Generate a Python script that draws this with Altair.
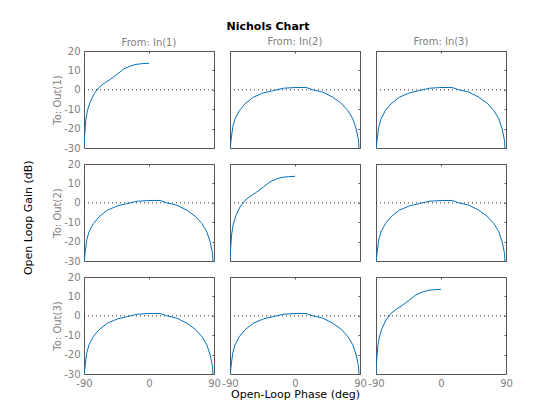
import altair as alt
import pandas as pd

inputs = ["From: In(1)", "From: In(2)", "From: In(3)"]
outputs = ["To: Out(1)", "To: Out(2)", "To: Out(3)"]
x_ticks = [-90, 0, 90]
y_ticks = [-30, -20, -10, 0, 10, 20]

# diagonal channels (phase in deg, gain in dB)
diag_phase = [-90, -89.8, -89.0, -87.6, -85.4, -81.7, -76.2, -69.2, -62.3, -53.1, -43.8, -34.6, -25.3, -18.0, -9.0, 0]
diag_gain = [-30, -26.0, -22.9, -16.0, -10.9, -6.5, -2.2, 1.2, 3.3, 5.5, 8.1, 10.8, 12.3, 13.1, 13.5, 13.65]

# cross channels
cross_phase = [-89.5, -89.0, -88.1, -86.3, -83.1, -77.0, -69.2, -57.6, -43.8, -30.0, -16.2, 1.4, 15.3,
               24.6, 38.5, 52.3, 63.9, 73.2, 80.1, 84.7, 88.0, 88.5]
cross_gain = [-30, -27.5, -24.8, -19.3, -15.0, -10.7, -7.2, -3.8, -1.6, -0.4, 0.8, 1.2, 1.2,
              0.0, -1.2, -3.8, -6.9, -10.7, -15.0, -20.2, -26.2, -30]

FONT = "DejaVu Sans"
BOX = "#555555"
GREY = "#808080"
LINE = "#0072BD"
W, H = 130, 97


def panel(r, c):
    if r == c:
        df = pd.DataFrame({"phase": diag_phase, "gain": diag_gain})
    else:
        df = pd.DataFrame({"phase": cross_phase, "gain": cross_gain})
    df["order"] = range(len(df))
    xscale = alt.Scale(domain=[-90, 90], nice=False, zero=False)
    yscale = alt.Scale(domain=[-30, 20], nice=False, zero=False)

    if c == 0:
        left_axis = alt.Axis(values=y_ticks, ticks=False, domain=False, grid=False,
                             labelColor=GREY, labelFontSize=10, labelPadding=4,
                             labelExpr="toString(datum.value)",
                             title=outputs[r], titleColor=GREY, titleFontWeight="normal",
                             titleFontSize=10, titlePadding=1)
    else:
        left_axis = None
    if r == 2:
        bottom_axis = alt.Axis(values=x_ticks, ticks=False, domain=False, grid=False,
                               labelColor=GREY, labelFontSize=10, labelPadding=4,
                               labelFlush=False, labelOverlap=False,
                               labelExpr="toString(datum.value)",
                               title="Open-Loop Phase (deg)" if c == 1 else None,
                               titleColor="black", titleFontWeight="normal",
                               titleFontSize=11, titlePadding=0)
    else:
        bottom_axis = None

    line = alt.Chart(df).mark_line(color=LINE, strokeWidth=1, clip=True).encode(
        x=alt.X("phase:Q", scale=xscale, axis=bottom_axis),
        y=alt.Y("gain:Q", scale=yscale, axis=left_axis),
        order="order:Q",
    )
    ghost = alt.Chart(df).mark_point(opacity=0).encode(
        x=alt.X("phase:Q", scale=xscale,
                axis=alt.Axis(orient="top", values=x_ticks, labels=False, domain=False,
                              grid=False, ticks=True, tickSize=2, offset=-2,
                              tickColor=BOX, title=None)),
        y=alt.Y("gain:Q", scale=yscale,
                axis=alt.Axis(orient="right", values=y_ticks, labels=False, domain=False,
                              grid=False, ticks=True, tickSize=2, offset=-2,
                              tickColor=BOX, title=None)),
    )
    zero = alt.Chart(pd.DataFrame({"gain": [0]})).mark_rule(
        color="#333333", strokeDash=[1, 3], strokeWidth=1
    ).encode(y=alt.Y("gain:Q", scale=yscale, axis=None), x=alt.value(0), x2=alt.value(W))

    ch = alt.layer(zero, line, ghost).resolve_axis(x="independent", y="independent").properties(
        width=W, height=H)
    if r == 0:
        ch = ch.properties(title=alt.TitleParams(inputs[c], color=GREY, fontSize=10,
                                                 fontWeight="normal", font=FONT,
                                                 offset=-2 if c == 0 else 4,
                                                 frame="group", anchor="middle"))
    return ch


panels = [panel(r, c) for r in range(3) for c in range(3)]
grid = alt.concat(*panels, columns=3, spacing=16, bounds="flush")

mid = alt.hconcat(grid, title=alt.TitleParams("Open Loop Gain (dB)", orient="left",
                                              fontSize=11, fontWeight="normal",
                                              color="black", font=FONT, offset=18,
                                              anchor="middle"))

chart = alt.vconcat(mid, title=alt.TitleParams("Nichols Chart", fontSize=11,
                                               fontWeight="bold", color="black",
                                               font=FONT, anchor="middle", offset=4)
).properties(
    padding={"left": 15, "top": 13, "right": 5, "bottom": 5}
).configure_view(stroke=BOX, strokeWidth=1).configure_axis(
    labelFont=FONT, titleFont=FONT
).configure_title(font=FONT)

chart.save("out.html", embed_options={"renderer": "svg", "actions": False})
